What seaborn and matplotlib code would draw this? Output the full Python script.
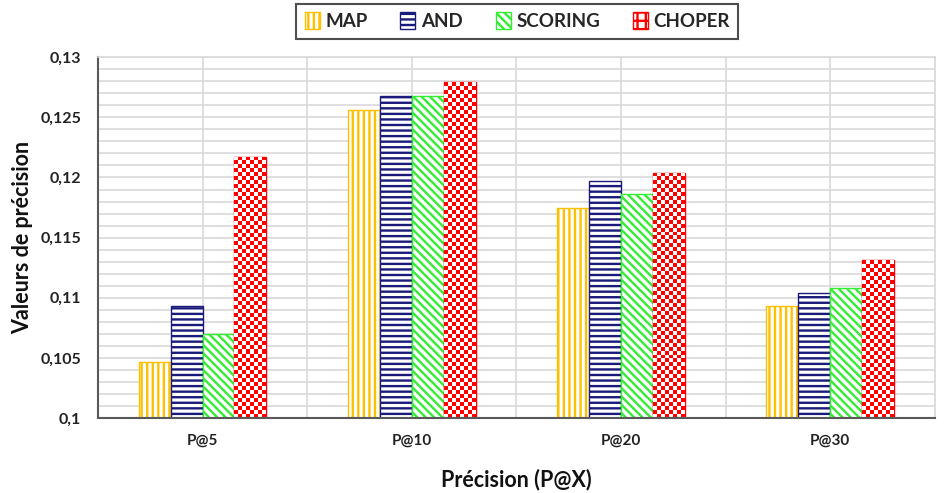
import numpy as np
import pandas as pd
import matplotlib
matplotlib.use('Agg')
import matplotlib.pyplot as plt
import seaborn as sns
from matplotlib.patches import Patch
from matplotlib.colors import ListedColormap
from matplotlib.ticker import MultipleLocator, FuncFormatter

# --- donnees ---
categories = ['P@5', 'P@10', 'P@20', 'P@30']
series = ['MAP', 'AND', 'SCORING', 'CHOPER']
map_vals = [0.1047, 0.1256, 0.1175, 0.1093]
and_vals = [0.1093, 0.1268, 0.1197, 0.1104]
scoring_vals = [0.1070, 0.1268, 0.1186, 0.1108]
choper_vals = [0.1217, 0.1279, 0.1204, 0.1131]

df = pd.DataFrame({
    'cat': categories * 4,
    'serie': [s for s in series for _ in categories],
    'val': map_vals + and_vals + scoring_vals + choper_vals,
})

# --- style ---
sns.set_style('white')
plt.rcParams['font.family'] = ['Lato', 'DejaVu Sans']
plt.rcParams['hatch.linewidth'] = 1.7

couleurs = {'MAP': '#FFC000', 'AND': '#1A1A7A', 'SCORING': '#33EE33', 'CHOPER': '#FF0000'}
hachures = {'MAP': '|||', 'AND': '---', 'SCORING': '\\\\\\\\', 'CHOPER': ''}
ymin, ymax = 0.1, 0.13

fig = plt.figure(figsize=(9.51, 4.93), dpi=100)
ax = fig.add_axes([0.103, 0.152, 0.880, 0.732])

sns.barplot(data=df, x='cat', y='val', hue='serie', hue_order=series, order=categories,
            errorbar=None, width=0.61, legend=False, ax=ax)

for nom, cont in zip(series, ax.containers):
    for bar in cont:
        bar.set_facecolor('white')
        bar.set_edgecolor(couleurs[nom])
        bar.set_linewidth(1.0)
        bar.set_hatch(hachures[nom])

ax.set_xlim(-0.5, 3.5)
ax.set_ylim(ymin, ymax)

# damier pour CHOPER
damier_cmap = ListedColormap(['white', couleurs['CHOPER']])
for bar in ax.containers[3]:
    x0 = bar.get_x()
    x1 = x0 + bar.get_width()
    y0 = max(bar.get_y(), ymin)
    y1 = bar.get_y() + bar.get_height()
    (px0, py0), (px1, py1) = ax.transData.transform([(x0, y0), (x1, y1)])
    nx = 8
    ny = max(1, int(round((py1 - py0) / ((px1 - px0) / nx))))
    board = np.indices((ny, nx)).sum(axis=0) % 2
    im = ax.imshow(board, cmap=damier_cmap, extent=(x0, x1, y0, y1), aspect='auto',
                   interpolation='nearest', origin='lower', zorder=bar.get_zorder() + 0.1)
    im.set_clip_path(bar)

ax.set_xlim(-0.5, 3.5)
ax.set_ylim(ymin, ymax)
ax.set_aspect('auto')

# grille
ax.yaxis.set_major_locator(MultipleLocator(0.005))
ax.yaxis.set_minor_locator(MultipleLocator(0.001))
ax.set_xticks([-0.5, 0.5, 1.5, 2.5, 3.5], minor=True)
ax.grid(which='both', axis='both', color='#D9D9D9', linewidth=1.2)
ax.set_axisbelow(True)
ax.tick_params(which='both', length=0)
ax.tick_params(axis='y', pad=12, labelsize=11.5)
ax.tick_params(axis='x', pad=11, labelsize=11)
ax.yaxis.set_major_formatter(FuncFormatter(lambda v, p: ('%g' % round(v, 4)).replace('.', ',')))
for lab in ax.get_xticklabels() + ax.get_yticklabels():
    lab.set_fontweight('bold')
    lab.set_color('#222222')

for s in ['left', 'bottom']:
    ax.spines[s].set_color('#595959')
    ax.spines[s].set_linewidth(1.5)
for s in ['top', 'right']:
    ax.spines[s].set_color('#D9D9D9')
    ax.spines[s].set_linewidth(1.2)

ax.set_xlabel('Précision (P@X)', fontsize=15.5, fontweight='bold', labelpad=15, color='#111111')
ax.set_ylabel('Valeurs de précision', fontsize=15.5, fontweight='bold', labelpad=5, color='#111111')

# legende
poignees = []
for nom in series:
    if nom == 'CHOPER':
        poignees.append(Patch(facecolor='white', edgecolor=couleurs[nom], hatch='++', label=nom))
    else:
        poignees.append(Patch(facecolor='white', edgecolor=couleurs[nom], hatch=hachures[nom], label=nom))
leg = fig.legend(handles=poignees, loc='center', bbox_to_anchor=(0.544, 0.957), ncol=4,
                 frameon=True, fancybox=False, edgecolor='#222222', handlelength=0.8,
                 handleheight=1.0, handletextpad=0.3, columnspacing=1.75,
                 prop={'weight': 'bold', 'size': 13.5}, borderpad=0.45)
leg.get_frame().set_linewidth(1.5)

fig.savefig('out.png', dpi=100)
